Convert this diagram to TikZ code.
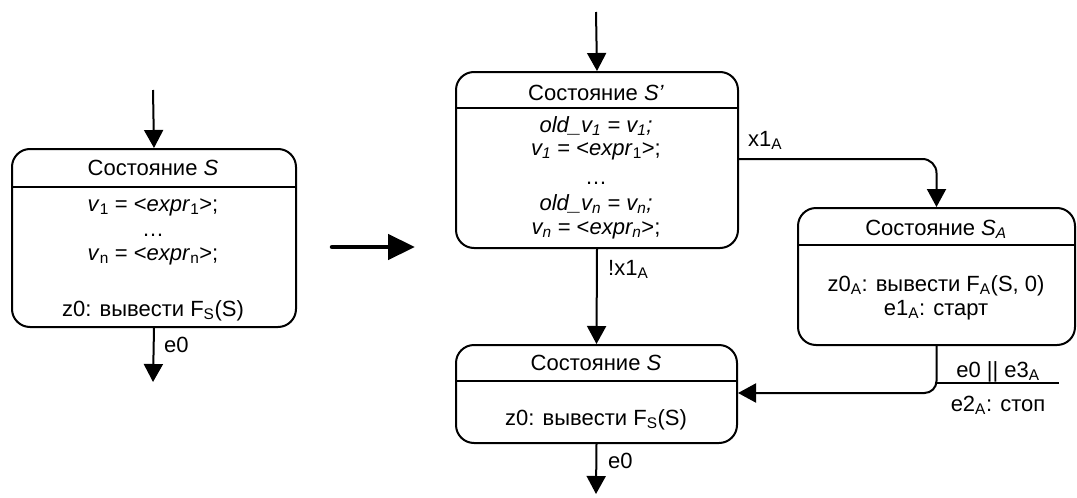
\documentclass[tikz,border=0pt]{standalone}
\usepackage{fontspec}
\setmainfont{Liberation Sans}
\usetikzlibrary{arrows.meta}
\newcommand\sbs[1]{\textsubscript{#1}}
\tikzset{
  st/.style={draw, line width=2pt, rounded corners=18pt, anchor=north west, inner sep=0pt},
  tx/.style={font=\fontsize{22}{26}\selectfont, inner sep=0pt, anchor=base},
  lb/.style={font=\fontsize{22}{26}\selectfont, inner sep=0pt, anchor=base west},
  sep/.style={line width=2pt},
  arr/.style={line width=2pt, -{Triangle[length=18pt,width=19pt]}},
  bigarr/.style={line width=4.5pt, line cap=round, -{Triangle[length=27pt,width=25pt]}}
}
\begin{document}
\begin{tikzpicture}[x=1pt,y=-1pt]
\useasboundingbox (0,0) rectangle (1077,498);
% boxes
\node[st, minimum width=284pt, minimum height=178pt] (L) at (11,148) {};
\node[st, minimum width=282pt, minimum height=176pt] (P) at (455,71) {};
\node[st, minimum width=277pt, minimum height=137pt] (A) at (797,207) {};
\node[st, minimum width=281pt, minimum height=98pt] (S) at (455,344) {};
% dividers
\draw[sep] (L.west |- 0,187) -- (L.east |- 0,187);
\draw[sep] (P.west |- 0,108) -- (P.east |- 0,108);
\draw[sep] (A.west |- 0,245) -- (A.east |- 0,245);
\draw[sep] (S.west |- 0,381) -- (S.east |- 0,381);
% left box texts
\node[tx] (lt) at (153,175) {Состояние \textit{S}};
\node[tx] (l1) at (153,211) {\textit{v}\sbs{1} = <\textit{expr}\sbs{1}>;};
\node[tx] (l2) at (153,236) {…};
\node[tx] (l3) at (153,260) {\textit{v}\sbs{n} = <\textit{expr}\sbs{n}>;};
\node[tx] (l4) at (153,316) {z0: вывести F\sbs{S}(S)};
% S' texts
\node[tx] (pt) at (596,100) {Состояние \textit{S’}};
\node[tx] (p1) at (596,132) {\textit{old\_v\sbs{1} = v\sbs{1};}};
\node[tx] (p2) at (596,155) {\textit{v\sbs{1}} = <\textit{expr}\sbs{1}>;};
\node[tx] (p3) at (596,184) {…};
\node[tx] (p4) at (596,210) {\textit{old\_v\sbs{n} = v\sbs{n};}};
\node[tx] (p5) at (596,234) {\textit{v\sbs{n}} = <\textit{expr\sbs{n}}>;};
% SA texts
\node[tx] (at) at (936,235) {Состояние \textit{S\sbs{A}}};
\node[tx] (a1) at (936,291) {z0\sbs{A}: вывести F\sbs{A}(S, 0)};
\node[tx] (a2) at (936,315) {e1\sbs{A}: старт};
% S texts
\node[tx] (st1) at (596,370) {Состояние \textit{S}};
\node[tx] (st2) at (596,425) {z0: вывести F\sbs{S}(S)};
% connectors
\coordinate (Lin) at (153,90);
\coordinate (Lout) at (153,382);
\coordinate (Pin) at (596,12);
\coordinate (Sout) at (596,494);
\coordinate (b1) at (332,247);
\coordinate (b2) at (415,247);
\draw[arr] (Lin) -- (L.north);
\draw[arr] (L.south) -- (Lout);
\draw[arr] (Pin) -- (P.north);
\draw[arr] (P.south) -- (S.north);
\draw[arr] (S.south) -- (Sout);
\draw[arr, rounded corners=14pt] (P.east |- 0,159) -| (A.north);
\draw[arr, rounded corners=12pt] (A.south) |- (S.east |- 0,393);
\draw[bigarr] (b1) -- (b2);
\draw[sep] (A.south |- 0,383) -- (1059,383);
% labels
\node[lb] (e0l) at (164,352) {e0};
\node[lb] (x1) at (748,146) {x1\sbs{A}};
\node[lb] (nx1) at (608,275) {!x1\sbs{A}};
\node[lb] (e0s) at (608,468) {e0};
\node[tx] (g1) at (998,377) {e0 || e3\sbs{A}};
\node[tx] (g2) at (998,411) {e2\sbs{A}: стоп};
\end{tikzpicture}
\end{document}
